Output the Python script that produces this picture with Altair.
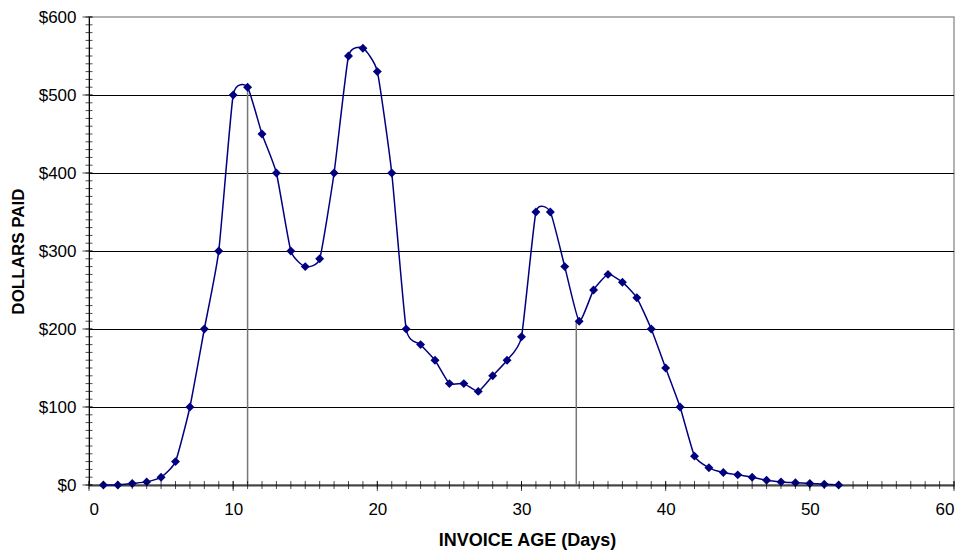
import altair as alt
import pandas as pd

days = list(range(1, 53))
dollars = [0, 0, 2, 4, 10, 30, 100, 200, 300, 500,
           510, 450, 400, 300, 280, 290, 400, 550, 560, 530,
           400, 200, 180, 160, 130, 130, 120, 140, 160, 190,
           350, 350, 280, 210, 250, 270, 260, 240, 200, 150,
           100, 37, 22, 16, 13, 10, 6, 4, 3, 2,
           1, 0]

drop_x = [11, 33.8]
drop_y = [510, 210]

grid_values = [100, 200, 300, 400, 500]
x_minor = list(range(0, 61))
x_major = list(range(0, 61, 10))
y_minor = list(range(0, 601, 10))
y_major = list(range(0, 601, 100))

FONT = "Liberation Sans"

df = pd.DataFrame({"x": days, "y": dollars})
drops = pd.DataFrame({"x": drop_x, "y": drop_y, "y0": [0] * len(drop_x)})
grid = pd.DataFrame({"y": grid_values, "x": [0] * len(grid_values)})
xmin = pd.DataFrame({"x": x_minor, "y": [0] * len(x_minor)})
xmaj = pd.DataFrame({"x": x_major, "y": [0] * len(x_major)})
ymin = pd.DataFrame({"y": y_minor, "x": [0] * len(y_minor)})
ymaj = pd.DataFrame({"y": y_major, "x": [0] * len(y_major)})

xscale = alt.Scale(domain=[0, 60], nice=False, zero=False)
yscale = alt.Scale(domain=[0, 600], nice=False)

x_axis = alt.Axis(values=x_major, title="INVOICE AGE (Days)", grid=False,
                  ticks=False, tickSize=0, labelPadding=16, labelFontSize=17,
                  labelFont=FONT, labelColor="#000", titleFont=FONT,
                  titleFontSize=18, titleFontWeight="bold", titleColor="#000",
                  titlePadding=14, titleX=438, domainColor="#444", domainWidth=2)
y_axis = alt.Axis(values=y_major, title="DOLLARS PAID", grid=False,
                  ticks=False, tickSize=0, labelPadding=13, labelFontSize=17,
                  labelFont=FONT, labelColor="#000", format="$.0f",
                  titleFont=FONT, titleFontSize=17, titleFontWeight="bold",
                  titleColor="#000", titlePadding=11, domainColor="#000",
                  domainWidth=1)

X = alt.X("x:Q", scale=xscale, axis=x_axis)
Y = alt.Y("y:Q", scale=yscale, axis=y_axis)

gridlines = alt.Chart(grid).mark_rule(color="#000", strokeWidth=1,
                                      yOffset=0.5).encode(y=Y)

droplines = alt.Chart(drops).mark_rule(color="#777", strokeWidth=1.5).encode(
    x=X, y=Y, y2="y0:Q"
)

line = alt.Chart(df).mark_line(color="#000080", strokeWidth=1.5,
                               interpolate="cardinal", tension=0.5).encode(x=X, y=Y)

points = alt.Chart(df).mark_point(shape="diamond", filled=True, size=80,
                                  color="#000080", opacity=1).encode(x=X, y=Y)

xt_minor = alt.Chart(xmin).mark_tick(orient="vertical", size=8, thickness=1,
                                     color="#000").encode(x=X, y=Y)
xt_major = alt.Chart(xmaj).mark_tick(orient="vertical", size=10, thickness=1,
                                     color="#000", yOffset=1).encode(x=X, y=Y)
yt_minor = alt.Chart(ymin).mark_tick(orient="horizontal", size=7, thickness=1,
                                     color="#000").encode(x=X, y=Y)
yt_major = alt.Chart(ymaj).mark_tick(orient="horizontal", size=10, thickness=1,
                                     color="#000", xOffset=-1.5).encode(x=X, y=Y)

chart = alt.layer(
    gridlines, droplines, line, points, xt_minor, xt_major, yt_minor, yt_major
).properties(
    width=865, height=468,
    autosize=alt.AutoSizeParams(type="none"),
    padding={"left": 89, "top": 17, "right": 9, "bottom": 65},
    background="white",
).configure_view(stroke="#999", strokeWidth=1.5)

chart.save("out.html", embed_options={"renderer": "svg", "actions": False})
